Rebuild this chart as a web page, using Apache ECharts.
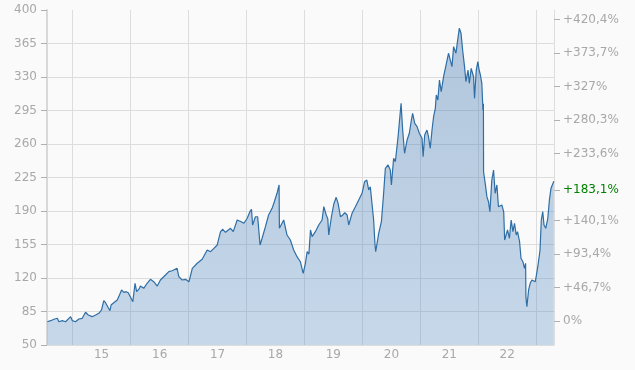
<!DOCTYPE html>
<html><head><meta charset="utf-8">
<script src="https://cdn.jsdelivr.net/npm/echarts@6/dist/echarts.min.js"></script>
<style>html,body{margin:0;padding:0;background:#fafafa}#c{width:635px;height:370px}</style>
</head><body><div id="c"></div>
<script>
const dates = [
'2014-07-25','2014-08-15','2014-09-05','2014-09-26','2014-10-06','2014-10-27','2014-11-17','2014-12-19','2014-12-30',
'2015-01-19','2015-02-09','2015-03-02','2015-03-23','2015-04-09','2015-05-04','2015-05-25','2015-06-15','2015-07-02','2015-07-16','2015-07-27','2015-08-07','2015-08-24','2015-08-31','2015-09-07','2015-09-17','2015-09-28','2015-10-09','2015-10-23','2015-11-05','2015-11-19','2015-12-04','2015-12-17',
'2016-01-04','2016-01-15','2016-01-26','2016-01-29','2016-02-08','2016-02-26','2016-03-03','2016-03-24','2016-04-14','2016-05-05','2016-05-26','2016-06-17','2016-07-07','2016-08-08','2016-08-29','2016-09-19','2016-10-20','2016-10-31','2016-11-21','2016-12-12',
'2017-01-03','2017-01-24','2017-02-24','2017-03-27','2017-04-28','2017-05-19','2017-06-09','2017-06-30','2017-07-21','2017-08-04','2017-08-21','2017-09-01','2017-09-22','2017-10-09','2017-11-03','2017-11-28','2017-12-15',
'2018-01-05','2018-01-22','2018-02-01','2018-02-08','2018-02-26','2018-03-12','2018-03-27','2018-04-09','2018-04-30','2018-05-20','2018-06-11','2018-06-25','2018-07-12','2018-07-25','2018-07-27','2018-08-23','2018-09-13','2018-10-04','2018-10-25','2018-11-15','2018-12-06','2018-12-24',
'2019-01-07','2019-01-18','2019-01-29','2019-02-08','2019-02-18','2019-03-11','2019-04-01','2019-04-22','2019-05-03','2019-05-18','2019-05-28','2019-06-03','2019-06-20','2019-07-05','2019-07-20','2019-08-01','2019-08-16','2019-08-30','2019-09-12','2019-09-27','2019-10-07','2019-10-28','2019-11-18','2019-12-09','2019-12-30',
'2020-01-15','2020-01-29','2020-02-10','2020-02-20','2020-03-12','2020-03-20','2020-03-25','2020-04-13','2020-04-30','2020-05-14','2020-05-25','2020-06-11','2020-06-25','2020-07-02','2020-07-16','2020-07-27','2020-08-13','2020-08-21','2020-09-01','2020-09-11','2020-09-23','2020-10-09','2020-10-23','2020-11-05','2020-11-13','2020-11-26','2020-12-11','2020-12-25',
'2021-01-11','2021-01-18','2021-01-28','2021-02-11','2021-02-21','2021-03-04','2021-03-15','2021-03-25','2021-04-05','2021-04-11','2021-04-21','2021-05-01','2021-05-12','2021-05-27','2021-06-07','2021-06-27','2021-07-08','2021-07-19','2021-07-29','2021-08-13','2021-08-21','2021-09-03','2021-09-14','2021-09-24','2021-10-06','2021-10-15','2021-10-28','2021-11-05','2021-11-17','2021-12-02','2021-12-08','2021-12-19','2021-12-29',
'2022-01-06','2022-01-14','2022-01-23','2022-01-30','2022-02-02','2022-02-03','2022-02-14','2022-02-24','2022-03-06','2022-03-15','2022-03-27','2022-04-07','2022-04-17','2022-04-28','2022-05-08','2022-05-19','2022-05-29','2022-06-10','2022-06-16','2022-07-04','2022-07-16','2022-07-27','2022-08-07','2022-08-17','2022-08-28','2022-09-05','2022-09-18','2022-09-27','2022-10-09','2022-10-19','2022-10-26','2022-10-28','2022-11-03','2022-11-14','2022-11-24','2022-12-05','2022-12-15','2022-12-26',
'2023-01-04','2023-01-14','2023-01-25','2023-02-02','2023-02-11','2023-02-19','2023-03-02','2023-03-15','2023-03-25','2023-04-04','2023-04-15','2023-04-22'
];
const prices = [
74.3,75.4,76.9,77.9,74.3,75.4,74.3,79.6,75.4,
74.3,77.2,77.9,84.2,81.3,79.6,81.3,83.1,86.6,96.3,94.2,95.2,85.8,91.8,90,94.2,92.8,97,102.2,107.5,105,105.7,104.6,
98.8,95.2,95.5,114.5,105.7,109.2,111.6,109.2,114.5,118.6,116.1,111.6,117.9,123.1,126.6,127.6,130.1,121.4,117.9,118.6,
116.1,130.1,135.4,139.5,149.3,147.5,151,154.5,168.4,170.9,167.7,169.4,171.9,168.4,180.6,178.8,177.2,
182.4,189.3,191.8,175.4,184,184,154.5,161.5,173.6,185.8,192.8,199.7,208.5,217.2,171.9,180.6,164.9,159.7,149.3,142.3,137,124.9,
135.4,147.5,145,170.2,163.2,168.4,175.4,180.6,194.5,185.8,182,164.9,184,197.3,204.3,198,184,185.8,188.2,185.8,175.4,187.6,194.5,201.5,208.5,
220.6,222.4,212,215.4,180.6,156.3,147.5,166.7,178.8,208.5,234.6,238.1,232.8,217.2,245.1,241.5,267.6,269.4,302.5,274.6,250.3,264.2,271.2,285.1,292.1,281.6,278.1,271.2,
266,246.7,269.4,274.6,267.6,255.5,274.6,288.5,297.3,311.2,306,326.9,314.7,330.3,332.1,354.8,347.8,340.8,361.7,354.8,365.2,380.9,375.7,358.2,340.8,325.1,337.3,323.4,339,330.3,307.7,337.3,346,
337.3,332.1,323.4,295.5,302,231,218,205,199.7,189.3,222.4,232.8,208.5,217.2,194.5,192.8,196.3,189,159.7,170.2,161.5,180.6,168.4,177.2,164.9,168.4,157.9,140.6,137,130.1,135.4,100,90,107.5,114.5,117.9,119.7,116.1,
124.9,135.4,149.3,180.6,189.3,175.4,171.9,182.4,201.5,213.7,212,221
];
const axisStart = '2014-07-23';
const axisEnd = '2023-04-23';
const leftTicks = [50,85,120,155,190,225,260,295,330,365,400];
const yearLabels = ['15','16','17','18','19','20','21','22'];
const yearLines = ['2015-01-01','2016-01-01','2017-01-01','2018-01-01','2019-01-01','2020-01-01','2021-01-01','2022-01-01','2023-01-01'];
const pctBase = 74.93;
const pctTicks = [0,46.7,93.4,140.1,183.1,233.6,280.3,327,373.7,420.4];
const lastPct = 183.1;

const P = (s) => Date.UTC(+s.slice(0,4), +s.slice(5,7) - 1, +s.slice(8,10));
const FONT = 'DejaVu Sans';
const GRAY = '#a8a8a8';
const LINEC = '#dddddd';
const labelTs = yearLabels.map(y => P('20' + y + '-07-02'));
const pctVals = pctTicks.map(p => pctBase * (1 + p / 100));
function pctText(p){
  if (p === 0) return '0%';
  const s = Number.isInteger(p) ? String(p) : p.toFixed(1).replace('.', ',');
  return '+' + s + '%';
}
function nearest(arr, v){
  let bi = 0, bd = Infinity;
  arr.forEach((t, i) => { const d = Math.abs(t - v); if (d < bd) { bd = d; bi = i; } });
  return bi;
}
const chart = echarts.init(document.getElementById('c'), null, {renderer:'canvas'});
chart.setOption({
  backgroundColor: '#fafafa',
  animation: false,
  grid: {left: 47, right: 81, top: 10, bottom: 25, containLabel: false},
  xAxis: [{
    type: 'value', min: P(axisStart), max: P(axisEnd),
    axisLine: {show: true, lineStyle: {color: LINEC}},
    axisTick: {show: false, customValues: yearLines.map(P)},
    splitLine: {show: true, lineStyle: {color: LINEC, width: 1}},
    axisLabel: {
      customValues: labelTs, color: GRAY, fontFamily: FONT, fontSize: 12, margin: 4,
      formatter: (v) => yearLabels[nearest(labelTs, v)]
    }
  }],
  yAxis: [{
    type: 'value', position: 'left', min: 50, max: 400, interval: 35,
    axisLine: {show: true, lineStyle: {color: '#d8d8d8', width: 2}},
    axisTick: {show: true, length: 6, lineStyle: {color: '#b0b0b0'}},
    axisLabel: {color: GRAY, fontFamily: FONT, fontSize: 12, margin: 10},
    splitLine: {show: false}
  }, {
    type: 'value', position: 'right', min: 50, max: 400,
    axisLine: {show: true, lineStyle: {color: LINEC, width: 1}},
    axisTick: {show: true, length: 6, customValues: pctVals, lineStyle: {color: '#b0b0b0'}},
    axisLabel: {
      customValues: pctVals, color: GRAY, fontFamily: FONT, fontSize: 12, margin: 9,
      formatter: (v) => {
        const p = pctTicks[nearest(pctVals, v)];
        return p === lastPct ? '{g|' + pctText(p) + '}' : pctText(p);
      },
      rich: {g: {color: '#008000', fontFamily: FONT, fontSize: 12}}
    },
    splitLine: {show: false}
  }, {
    type: 'value', position: 'left', min: 50, max: 400, interval: 35,
    axisLine: {show: false},
    axisTick: {show: false, customValues: leftTicks.slice(1, -1)},
    axisLabel: {show: false},
    splitLine: {show: true, lineStyle: {color: LINEC, width: 1}}
  }],
  series: [{
    type: 'line', xAxisIndex: 0, yAxisIndex: 0,
    data: dates.map((d, i) => [P(d), prices[i]]),
    showSymbol: false, symbol: 'none',
    lineStyle: {color: '#2f6ea5', width: 1.2},
    areaStyle: {
      color: new echarts.graphic.LinearGradient(0, 0, 0, 1, [
        {offset: 0, color: 'rgba(40,100,165,0.5)'},
        {offset: 1, color: 'rgba(86,141,197,0.45)'}
      ])
    }
  }]
});
</script></body></html>
